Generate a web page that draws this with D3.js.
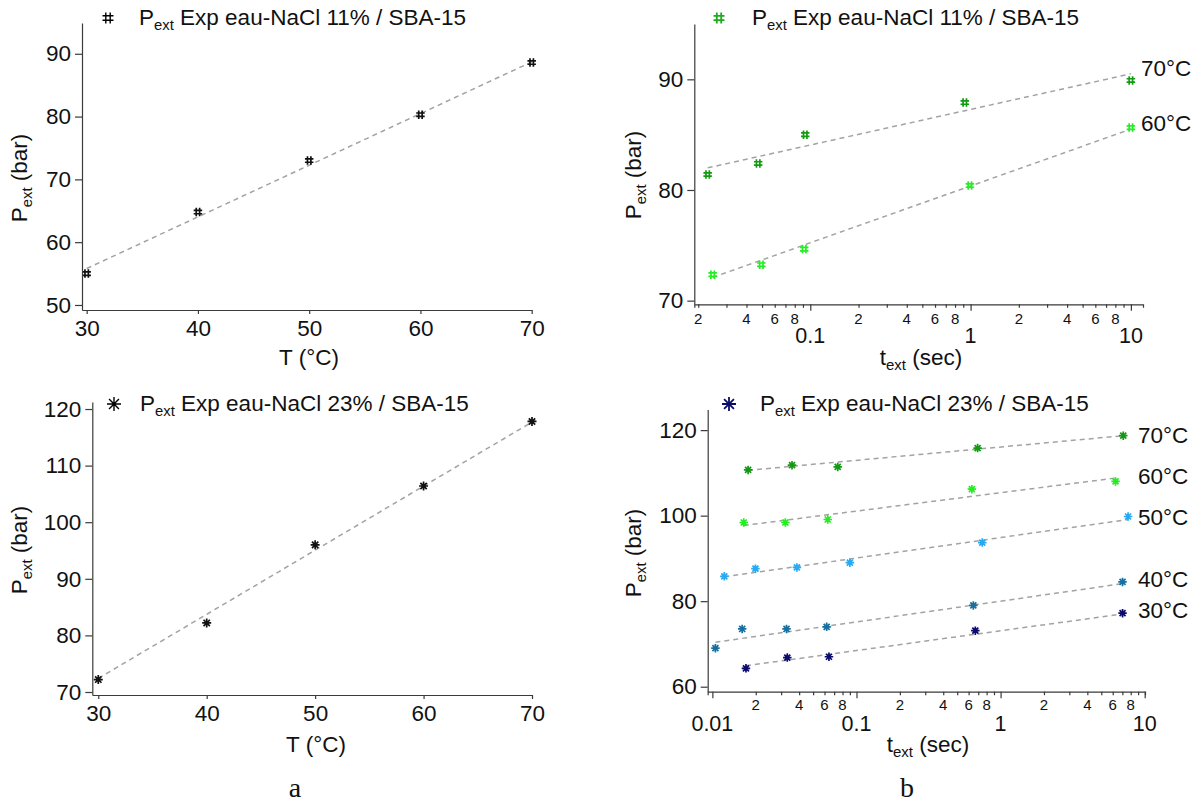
<!DOCTYPE html>
<html><head><meta charset="utf-8">
<script src="https://cdn.jsdelivr.net/npm/d3@7"></script>
<style>
body{margin:0;background:#fff}
text{font-family:"Liberation Sans",Arial,sans-serif;fill:#111}
</style>
</head><body>
<svg id="c" width="1199" height="802"></svg>
<script>
// ---------- data ----------
const tempA = [30, 40, 50, 60, 70];
const pA11 = [55.0, 64.8, 73.0, 80.3, 88.6];
const pA23 = [72.2, 82.2, 96.0, 106.4, 117.8];
const fitA11 = [[30, 55.8], [70, 88.7]];
const fitA23 = [[30, 72.4], [70, 117.7]];
const yTicksA11 = [50, 60, 70, 80, 90];
const yTicksA23 = [70, 80, 90, 100, 110, 120];

const tB11_70 = [0.0229, 0.0473, 0.093, 0.92, 10];
const pB11_70 = [81.4, 82.4, 85.0, 87.9, 89.9];
const tB11_60 = [0.0246, 0.0495, 0.0916, 0.99, 10];
const pB11_60 = [72.35, 73.25, 74.66, 80.4, 85.64];
const fitB11_70 = [[0.0229, 82.0], [10, 90.5]];
const fitB11_60 = [[0.0246, 72.1], [10, 85.5]];
const yTicksB11 = [70, 80, 90];

const tB23_70 = [0.0177, 0.0357, 0.0741, 0.693, 7.1];
const pB23_70 = [110.7, 111.8, 111.4, 115.8, 118.7];
const tB23_60 = [0.0165, 0.0321, 0.0632, 0.632, 6.28];
const pB23_60 = [98.4, 98.4, 99.1, 106.2, 108.0];
const tB23_50 = [0.0121, 0.0199, 0.0386, 0.090, 0.746, 7.67];
const pB23_50 = [85.8, 87.6, 87.9, 89.0, 93.7, 99.8];
const tB23_40 = [0.0105, 0.0161, 0.0327, 0.0621, 0.647, 7.02];
const pB23_40 = [69.0, 73.5, 73.5, 74.0, 79.0, 84.5];
const tB23_30 = [0.0171, 0.0331, 0.0644, 0.668, 7.02];
const pB23_30 = [64.3, 66.8, 67.0, 73.1, 77.2];
const fitB23_70 = [[0.0177, 110.6], [7.1, 118.7]];
const fitB23_60 = [[0.0165, 97.7], [6.28, 108.8]];
const fitB23_50 = [[0.0121, 85.7], [7.67, 99.1]];
const fitB23_40 = [[0.0105, 70.4], [7.02, 84.1]];
const fitB23_30 = [[0.0171, 64.9], [7.02, 77.0]];
const yTicksB23 = [60, 80, 100, 120];

const tempLabels11 = ["70°C", "60°C"];
const tempLabels23 = ["70°C", "60°C", "50°C", "40°C", "30°C"];
const legend11 = " Exp eau-NaCl 11% / SBA-15";
const legend23 = " Exp eau-NaCl 23% / SBA-15";

// ---------- drawing ----------
const svg = d3.select("#c");
svg.append("rect").attr("width", 1199).attr("height", 802).attr("fill", "#fff");
const AX = "#3a3a3a";
const C70 = "#129a12", C60 = "#22ee22", C50 = "#28aaf2", C40 = "#15709f", C30 = "#0b0b6e";
const FS = 22.5;

function hashPath(s) {
  const a = s / 2, b = s / 5;
  return `M${-b},${-a}V${a}M${b},${-a}V${a}M${-a},${-b}H${a}M${-a},${b}H${a}`;
}
function starPath(s) {
  const r = s / 2; let p = "";
  for (let i = 0; i < 4; i++) {
    const ang = i * Math.PI / 4, dx = r * Math.cos(ang), dy = r * Math.sin(ang);
    p += `M${(-dx).toFixed(2)},${(-dy).toFixed(2)}L${dx.toFixed(2)},${dy.toFixed(2)}`;
  }
  return p;
}

function styleAxis(g) {
  g.selectAll("path.domain").attr("stroke", AX).attr("stroke-width", 1.2);
  g.selectAll(".tick line").attr("stroke", AX).attr("stroke-width", 1.2);
  g.selectAll(".tick text").style("font-size", FS + "px").attr("fill", "#111")
    .style("font-family", '"Liberation Sans",Arial,sans-serif');
}

function yAxis(x0, y, ticks) {
  const g = svg.append("g").attr("transform", `translate(${x0},0)`)
    .call(d3.axisLeft(y).tickValues(ticks).tickSize(7).tickSizeOuter(0).tickPadding(4));
  styleAxis(g);
  return g;
}
function xAxisLin(y0, x, ticks) {
  const g = svg.append("g").attr("transform", `translate(0,${y0})`)
    .call(d3.axisBottom(x).tickValues(ticks).tickSize(4).tickSizeOuter(0).tickPadding(6));
  styleAxis(g);
  return g;
}
function xAxisLog(y0, x, minorDy, majorDy) {
  const [d0, d1] = x.domain();
  const ticks = [];
  for (let e = -3; e <= 2; e++) for (let m = 1; m <= 9; m++) {
    const v = m * Math.pow(10, e);
    if (v >= d0 * 0.999 && v <= d1 * 1.001) ticks.push({ v, m, e });
  }
  const g = svg.append("g").attr("transform", `translate(0,${y0})`)
    .call(d3.axisBottom(x).tickValues(ticks.map(t => t.v)).tickFormat("").tickSizeOuter(0).tickSize(3.5));
  styleAxis(g);
  g.selectAll(".tick line").attr("y2", (d, i) => ticks[i].m === 1 ? 6.5 : 3.5);
  ticks.forEach(t => {
    if (t.m === 1) {
      g.append("text").attr("x", x(t.v)).attr("y", majorDy).attr("text-anchor", "middle")
        .style("font-size", "21.5px").text(d3.format("~g")(t.v));
    } else if (t.m % 2 === 0) {
      g.append("text").attr("x", x(t.v)).attr("y", minorDy).attr("text-anchor", "middle")
        .style("font-size", "15px").text(t.m);
    }
  });
}

function pText(sel, x, y, rest, size, rot) {
  const t = sel.append("text").attr("x", x).attr("y", y).style("font-size", size + "px");
  if (rot) t.attr("transform", `rotate(-90,${x},${y})`).attr("text-anchor", "middle");
  t.append("tspan").text("P");
  t.append("tspan").attr("dy", size * 0.24).style("font-size", (size * 0.66) + "px").text("ext");
  t.append("tspan").attr("dy", -size * 0.24).text(rest);
  return t;
}
function tText(x, y) {
  const t = svg.append("text").attr("x", x).attr("y", y).attr("text-anchor", "middle").style("font-size", FS + "px");
  t.append("tspan").text("t");
  t.append("tspan").attr("dy", 5).style("font-size", "15px").text("ext");
  t.append("tspan").attr("dy", -5).text(" (sec)");
}

function fitLine(x, y, f) {
  svg.append("line")
    .attr("x1", x(f[0][0])).attr("y1", y(f[0][1]))
    .attr("x2", x(f[1][0])).attr("y2", y(f[1][1]))
    .attr("stroke", "#a3a3a3").attr("stroke-width", 1.5).attr("stroke-dasharray", "5,4");
}
function markers(x, y, xs, ys, color, shape, size) {
  svg.append("g").selectAll("path").data(xs.map((v, i) => [v, ys[i]])).join("path")
    .attr("transform", d => `translate(${x(d[0])},${y(d[1])})`)
    .attr("d", shape === "hash" ? hashPath(size) : starPath(size))
    .attr("fill", "none").attr("stroke", color).attr("stroke-width", 1.7);
}

// ===== Panel A1 =====
{
  const x = d3.scaleLinear().domain([29.58, 70]).range([82, 531.7]);
  const y = d3.scaleLinear().domain([49.2, 94.9]).range([310, 23]);
  fitLine(x, y, fitA11);
  markers(x, y, tempA, pA11, "#111", "hash", 8.5);
  yAxis(82, y, yTicksA11);
  xAxisLin(310, x, tempA);
  svg.append("text").attr("x", 309).attr("y", 365).attr("text-anchor", "middle").style("font-size", FS + "px").text("T (°C)");
  pText(svg, 27, 178, " (bar)", FS, true);
  svg.append("path").attr("transform", "translate(108,18)").attr("d", hashPath(11)).attr("fill", "none").attr("stroke", "#000").attr("stroke-width", 1.4);
  pText(svg, 139, 25, legend11, FS, false);
}
// ===== Panel A2 =====
{
  const x = d3.scaleLinear().domain([29.45, 70]).range([92.3, 532]);
  const y = d3.scaleLinear().domain([69.47, 121.24]).range([695, 402]);
  fitLine(x, y, fitA23);
  markers(x, y, tempA, pA23, "#111", "star", 9);
  yAxis(92.3, y, yTicksA23);
  xAxisLin(695, x, tempA);
  svg.append("text").attr("x", 316).attr("y", 752).attr("text-anchor", "middle").style("font-size", FS + "px").text("T (°C)");
  pText(svg, 27, 550, " (bar)", FS, true);
  svg.append("path").attr("transform", "translate(114,404)").attr("d", starPath(14)).attr("fill", "none").attr("stroke", "#000").attr("stroke-width", 1.4);
  pText(svg, 140, 411, legend23, FS, false);
  svg.append("text").attr("x", 295).attr("y", 797).attr("text-anchor", "middle")
    .style("font-family", '"Liberation Serif","Times New Roman",serif').style("font-size", "28px").text("a");
}
// ===== Panel B1 =====
{
  const x = d3.scaleLog().domain([0.0189, 11.9]).range([694.3, 1143]);
  const y = d3.scaleLinear().domain([69.67, 95]).range([304.3, 24]);
  fitLine(x, y, fitB11_70);
  fitLine(x, y, fitB11_60);
  markers(x, y, tB11_70, pB11_70, C70, "hash", 8.5);
  markers(x, y, tB11_60, pB11_60, C60, "hash", 8.5);
  yAxis(694.3, y, yTicksB11);
  xAxisLog(304.3, x, 19.5, 38.5);
  tText(921, 365);
  pText(svg, 641, 175, " (bar)", FS, true);
  svg.append("path").attr("transform", "translate(719,18)").attr("d", hashPath(11)).attr("fill", "none").attr("stroke", "#1faa1f").attr("stroke-width", 1.8);
  pText(svg, 752, 25, legend11, FS, false);
  svg.append("g").selectAll("text").data(tempLabels11).join("text")
    .attr("x", 1141).attr("y", (d, i) => [76, 131][i]).style("font-size", FS + "px").text(d => d);
}
// ===== Panel B2 =====
{
  const x = d3.scaleLog().domain([0.00928, 10.05]).range([707.7, 1145]);
  const y = d3.scaleLinear().domain([58.83, 124.8]).range([691.7, 409.6]);
  const fits = [fitB23_70, fitB23_60, fitB23_50, fitB23_40, fitB23_30];
  fits.forEach(f => fitLine(x, y, f));
  markers(x, y, tB23_70, pB23_70, C70, "star", 8.5);
  markers(x, y, tB23_60, pB23_60, C60, "star", 8.5);
  markers(x, y, tB23_50, pB23_50, C50, "star", 8.5);
  markers(x, y, tB23_40, pB23_40, C40, "star", 8.5);
  markers(x, y, tB23_30, pB23_30, C30, "star", 8.5);
  yAxis(707.7, y, yTicksB23);
  xAxisLog(691.7, x, 18.5, 39.5);
  tText(928, 752);
  pText(svg, 641, 553, " (bar)", FS, true);
  svg.append("path").attr("transform", "translate(729,404)").attr("d", starPath(14)).attr("fill", "none").attr("stroke", C30).attr("stroke-width", 1.8);
  pText(svg, 760, 411, legend23, FS, false);
  svg.append("g").selectAll("text").data(tempLabels23).join("text")
    .attr("x", 1138).attr("y", (d, i) => [443, 484, 525, 587, 618][i]).style("font-size", FS + "px").text(d => d);
  svg.append("text").attr("x", 907).attr("y", 797).attr("text-anchor", "middle")
    .style("font-family", '"Liberation Serif","Times New Roman",serif').style("font-size", "28px").text("b");
}
</script>
</body></html>
